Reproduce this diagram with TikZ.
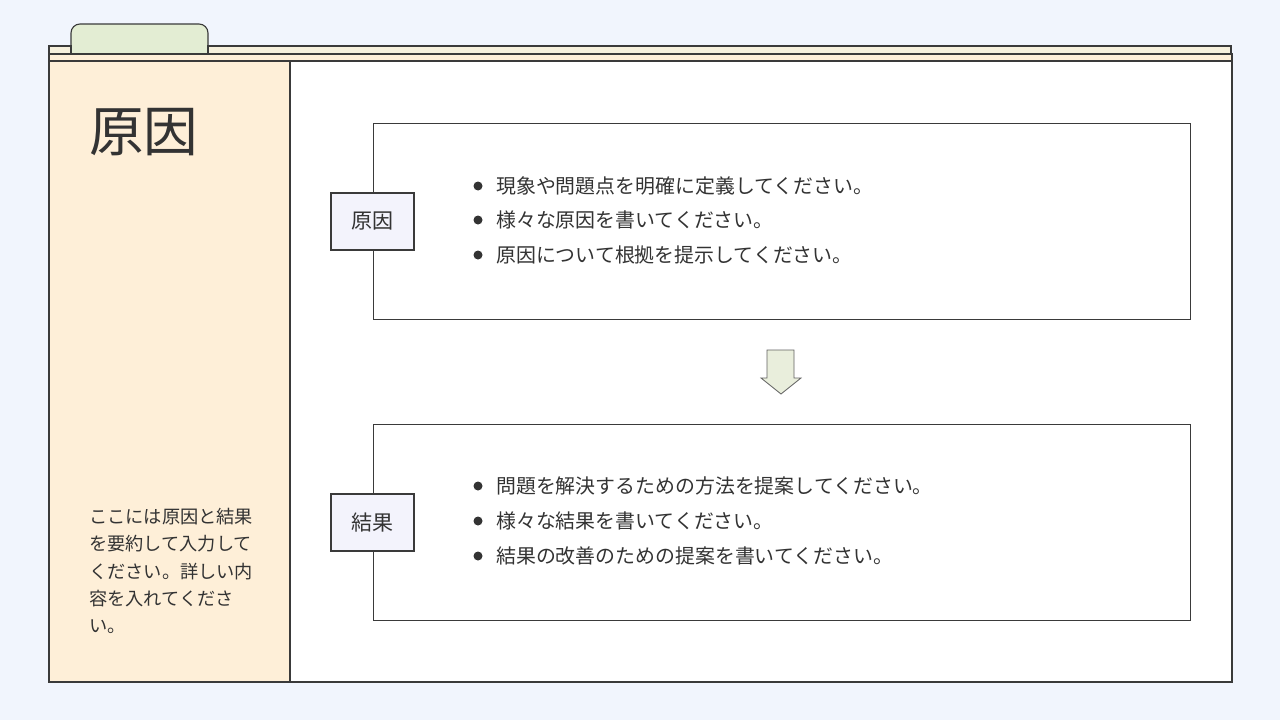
\documentclass[tikz,border=0pt]{standalone}
\usepackage{fontspec}
\setmainfont{Noto Sans CJK JP}
\newfontfamily\jp{Noto Sans CJK JP}
\definecolor{bg}{HTML}{F1F5FD}
\definecolor{cream}{HTML}{F6F0DC}
\definecolor{peach}{HTML}{FEEFD8}
\definecolor{tabgreen}{HTML}{E3EDD3}
\definecolor{lav}{HTML}{F3F3FC}
\definecolor{arrowfill}{HTML}{E9EEDC}
\definecolor{ink}{HTML}{333333}
\definecolor{edge}{HTML}{3A3A3A}
\tikzset{
  frame/.style={draw=edge, line width=1.1pt},
  labelbox/.style={frame, fill=lav, minimum width=83pt, minimum height=57pt, inner sep=0pt, font=\jp\fontsize{21}{25}\selectfont, text=ink},
  bullettext/.style={anchor=west, inner sep=0pt, font=\jp\fontsize{19.9}{23}\selectfont, text=ink},
  dot/.style={circle, fill=ink, inner sep=0pt, minimum size=9pt}
}
\begin{document}
\begin{tikzpicture}[x=1pt,y=-1pt]
\fill[bg] (0,0) rectangle (1280,720);
\useasboundingbox (0,0) rectangle (1280,720);
% tab
\draw[frame, fill=tabgreen, rounded corners=9pt] (71,54) -- (71,24) -- (208,24) -- (208,54);
\fill[tabgreen] (72,40) rectangle (207,53.5);
% strips
\draw[frame, fill=cream] (49,46) -- (71,46) -- (71,54) -- (49,54) -- cycle;
\draw[frame, fill=cream] (208,46) rectangle (1231,54);
\draw[frame] (71,54) -- (208,54);
\draw[frame, fill=peach] (49,54) rectangle (1232,61);
% main panel
\draw[frame, fill=white] (49,61) rectangle (1232,682);
\draw[frame, fill=peach] (49,61) rectangle (290,682);
% title
\node[anchor=west, inner sep=0pt, font=\jp\fontsize{54.5}{60}\selectfont, text=ink] (title) at (89,132) {原因};
% summary
\node[anchor=north west, inner sep=0pt, align=left, font=\jp\fontsize{18.2}{27.3}\selectfont, text=ink] (summary) at (89,508)
 {ここには原因と結果\\を要約して入力して\\ください。詳しい内\\容を入れてくださ\\い。};
% box 1
\node[frame, fill=white, minimum width=817pt, minimum height=196pt, anchor=north west, inner sep=0pt] (box1) at (373,123) {};
\node[labelbox] (lab1) at (372.5,221.5) {原因};
\foreach \yy/\t [count=\i] in {186/現象や問題点を明確に定義してください。,220/様々な原因を書いてください。,255/原因について根拠を提示してください。}{
  \node[dot] (d1\i) at (478,\yy) {};
  \node[bullettext] (t1\i) at (496,\yy) {\t};
}
% arrow
\node[inner sep=0pt] (arr) at (781,372) {};
\draw[draw=edge!80, line width=0.8pt, fill=arrowfill] (767,350) -- (794,350) -- (794,378) -- (801,378) -- (781,394) -- (761,378) -- (767,378) -- cycle;
% box 2
\node[frame, fill=white, minimum width=817pt, minimum height=196pt, anchor=north west, inner sep=0pt] (box2) at (373,424) {};
\node[labelbox] (lab2) at (372.5,522.5) {結果};
\foreach \yy/\t [count=\i] in {486/問題を解決するための方法を提案してください。,521/様々な結果を書いてください。,556/結果の改善のための提案を書いてください。}{
  \node[dot] (d2\i) at (478,\yy) {};
  \node[bullettext] (t2\i) at (496,\yy) {\t};
}
\end{tikzpicture}
\end{document}
